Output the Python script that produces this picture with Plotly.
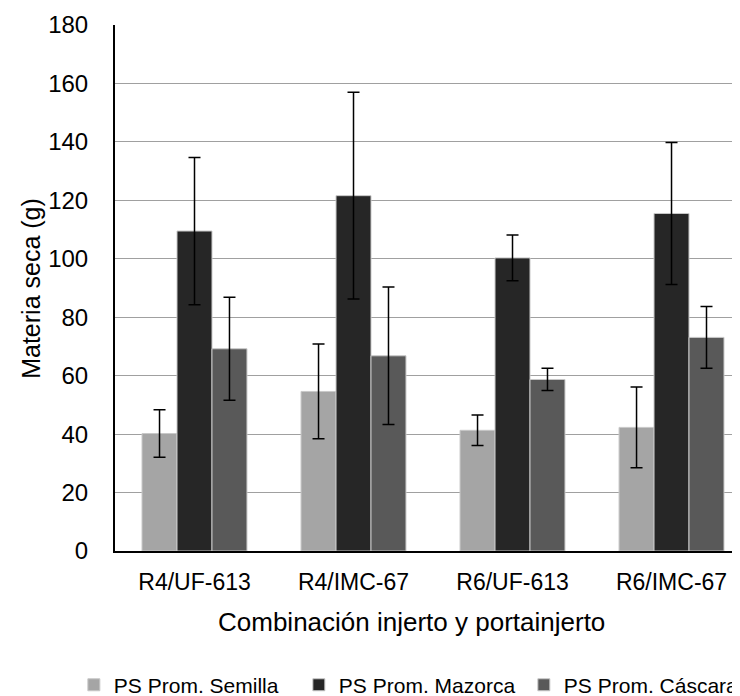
import plotly.graph_objects as go

categories = ["R4/UF-613", "R4/IMC-67", "R6/UF-613", "R6/IMC-67"]
series_names = ["PS Prom. Semilla", "PS Prom. Mazorca", "PS Prom. Cáscara"]
semilla = [40.2, 54.6, 41.3, 42.3]
semilla_err = [8.1, 16.2, 5.2, 13.8]
mazorca = [109.5, 121.6, 100.3, 115.5]
mazorca_err = [25.2, 35.4, 7.8, 24.3]
cascara = [69.2, 66.8, 58.7, 73.1]
cascara_err = [17.6, 23.5, 3.8, 10.6]
y_ticks = [0, 20, 40, 60, 80, 100, 120, 140, 160, 180]

colors = ["#A5A5A5", "#262626", "#595959"]
FONT = "Liberation Sans, Arial, sans-serif"

fig = go.Figure()
for name, vals, errs, col in zip(series_names, [semilla, mazorca, cascara],
                                 [semilla_err, mazorca_err, cascara_err], colors):
    fig.add_trace(go.Bar(
        x=categories, y=vals, name=name,
        marker=dict(color=col, line=dict(color="#C8C8C8", width=1)),
        error_y=dict(type="data", array=errs, visible=True,
                     color="#000000", thickness=1.5, width=6),
    ))

fig.update_layout(
    width=740, height=696,
    margin=dict(l=107, r=0, t=17, b=153, autoexpand=False),
    paper_bgcolor="white", plot_bgcolor="white",
    barmode="group", bargap=0.34, bargroupgap=0,
    font=dict(family=FONT, size=21, color="#000000"),
    showlegend=True,
    legend=dict(orientation="h", x=-0.065, xanchor="left", y=-0.255, yanchor="middle",
                font=dict(size=21), entrywidth=180, entrywidthmode="pixels",
                itemwidth=30, tracegroupgap=0),
    annotations=[
        dict(text="Combinación injerto y portainjerto", xref="paper", yref="paper",
             x=0.469, y=-0.135, xanchor="center", yanchor="middle",
             showarrow=False, font=dict(size=26)),
        dict(text="Materia seca (g)", xref="paper", yref="paper",
             x=-0.133, y=0.5, xanchor="center", yanchor="middle", textangle=-90,
             showarrow=False, font=dict(size=25)),
    ],
)
fig.update_xaxes(
    range=[-0.5, 3.481], showline=True, linecolor="#000000", linewidth=2,
    showgrid=False, ticks="", ticklabelstandoff=9, tickfont=dict(size=23),
    automargin=False,
)
fig.update_yaxes(
    range=[0, 180], tickvals=y_ticks, showline=True, linecolor="#000000", linewidth=2,
    showgrid=True, gridcolor="#A0A0A0", gridwidth=1, zeroline=False, ticks="",
    ticklabelstandoff=20, tickfont=dict(size=24), automargin=False,
)
fig.write_html("out.html")
